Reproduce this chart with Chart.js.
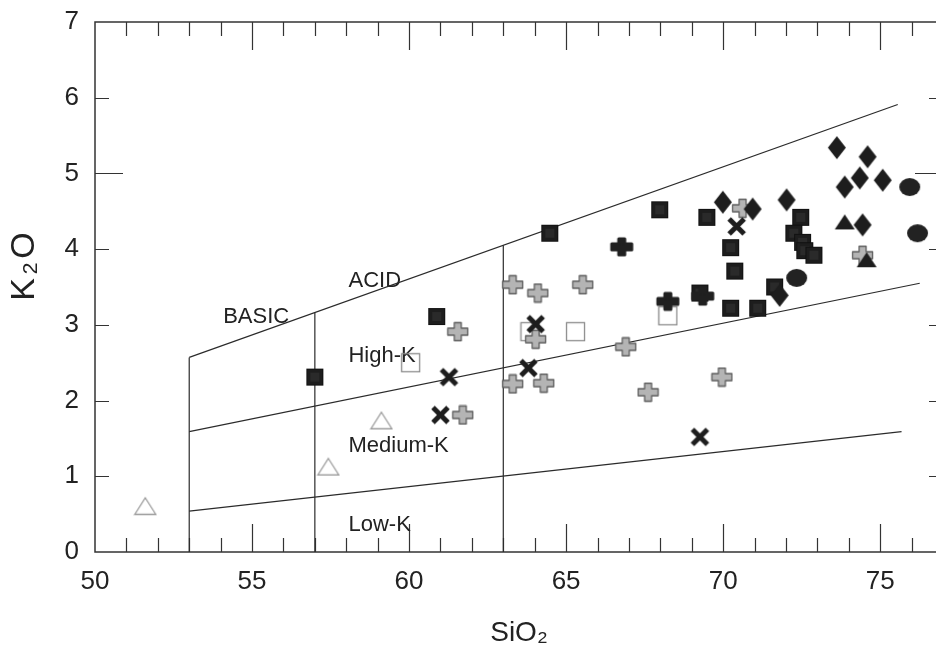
<!DOCTYPE html>
<html><head><meta charset="utf-8">
<script src="https://cdn.jsdelivr.net/npm/chart.js@4.4.1/dist/chart.umd.min.js"></script>
<style>html,body{margin:0;padding:0;background:#fff;overflow:hidden}canvas{display:block}</style>
</head><body>
<canvas id="c" width="943" height="658" style="width:943px;height:658px"></canvas>
<script>
// ---- data (SiO2, K2O) ----
const openTriangles = [[51.6,0.61],[57.43,1.13],[59.12,1.74]];
const blackSquares = [[57.0,2.31],[60.88,3.11],[64.48,4.21],[67.98,4.52],[69.48,4.42],[70.24,4.02],[70.37,3.71],[70.24,3.22],[71.10,3.22],[71.64,3.50],[72.47,4.42],[72.25,4.21],[72.53,4.09],[72.60,3.98],[72.89,3.92],[69.26,3.42]];
const openSquares = [[60.05,2.50],[63.85,2.91],[65.30,2.91],[68.24,3.12]];
const grayCrosses = [[63.30,3.53],[64.10,3.42],[65.53,3.53],[61.55,2.91],[64.03,2.81],[66.90,2.71],[63.30,2.22],[64.29,2.23],[61.71,1.81],[67.61,2.11],[69.96,2.31],[74.44,3.92],[70.62,4.54]];
const blackCrosses = [[61.27,2.31],[61.00,1.81],[64.03,3.01],[63.80,2.43],[70.43,4.30],[69.26,1.52]];
const diamonds = [[69.99,4.62],[70.94,4.53],[72.02,4.65],[71.80,3.39],[73.62,5.34],[74.60,5.22],[73.87,4.82],[74.35,4.94],[75.08,4.91],[74.44,4.32]];
const circles = [[75.94,4.82],[76.19,4.21],[72.34,3.62]];
const blackTriangles = [[73.87,4.36],[74.57,3.86]];
const blackPluses = [[66.77,4.03],[68.24,3.31],[69.35,3.38]];

// field boundaries
const line53 = [[53,0],[53,2.57]];
const line57 = [[57,0],[57,3.16]];
const line63 = [[63,0],[63,4.05]];
const acidLine = [[53,2.57],[75.56,5.91]];
const highKLine = [[53,1.59],[76.26,3.55]];
const lowKLine = [[53,0.54],[75.68,1.59]];

// field labels
const fieldLabels = ['BASIC','ACID','High-K','Medium-K','Low-K'];
const fieldLabelAnchors = [[54.08,3.10],[58.07,3.58],[58.07,2.59],[58.07,1.40],[58.07,0.357]];

const xTitle = 'SiO\u2082';
const yTitle = 'K\u2082O';

// ---- marker images ----
function mk(w, h, fn) {
  const c = document.createElement('canvas');
  c.width = w; c.height = h;
  const g = c.getContext('2d');
  fn(g, w, h);
  return c;
}
function plusPath(g, cx, cy, w, h, t) {
  const hw = w/2, hh = h/2, ht = t/2;
  g.beginPath();
  g.moveTo(cx-ht, cy-hh); g.lineTo(cx+ht, cy-hh); g.lineTo(cx+ht, cy-ht);
  g.lineTo(cx+hw, cy-ht); g.lineTo(cx+hw, cy+ht); g.lineTo(cx+ht, cy+ht);
  g.lineTo(cx+ht, cy+hh); g.lineTo(cx-ht, cy+hh); g.lineTo(cx-ht, cy+ht);
  g.lineTo(cx-hw, cy+ht); g.lineTo(cx-hw, cy-ht); g.lineTo(cx-ht, cy-ht);
  g.closePath();
}
const BLK = '#1d1d1d';
const imgBlackSquare = mk(19, 19, g => { g.fillStyle = BLK; g.fillRect(1, 1, 17, 17); g.strokeStyle = '#111'; g.lineWidth = 1; g.strokeRect(1.5,1.5,16,16); g.fillStyle='#2a2a2a'; g.fillRect(5,5,9,9); });
const imgOpenSquare = mk(21, 21, g => { g.strokeStyle = '#8c8c8c'; g.lineWidth = 1.3; g.strokeRect(1.5, 1.5, 18, 18); });
const imgGrayCross = mk(23, 21, g => { plusPath(g, 11.5, 10.5, 20, 18, 7); g.fillStyle = '#b4b4b4'; g.fill(); g.strokeStyle = '#5e5e5e'; g.lineWidth = 1.3; g.lineJoin = 'round'; g.stroke(); });
const imgBlackX = mk(21, 21, g => { g.strokeStyle = BLK; g.lineWidth = 5; g.lineCap = 'butt'; g.beginPath(); g.moveTo(3,3); g.lineTo(18,18); g.moveTo(18,3); g.lineTo(3,18); g.stroke(); });
const imgDiamond = mk(20, 25, g => { g.fillStyle = BLK; g.beginPath(); g.moveTo(10,1); g.lineTo(19,12.5); g.lineTo(10,24); g.lineTo(1,12.5); g.closePath(); g.fill(); });
const imgCircle = mk(23, 20, g => { g.fillStyle = '#222'; g.beginPath(); g.ellipse(11.5, 10, 10.5, 9, 0, 0, Math.PI*2); g.fill(); });
const imgBlackTri = mk(22, 17, g => { g.fillStyle = BLK; g.beginPath(); g.moveTo(11,1); g.lineTo(21,16); g.lineTo(1,16); g.closePath(); g.fill(); });
const imgOpenTri = mk(24, 20, g => { g.strokeStyle = '#9a9a9a'; g.lineWidth = 1.3; g.lineJoin = 'miter'; g.beginPath(); g.moveTo(12,2); g.lineTo(22.5,18.5); g.lineTo(1.5,18.5); g.closePath(); g.stroke(); });
const imgBlackPlus = mk(26, 22, g => { plusPath(g, 13, 11, 20, 16, 6); g.fillStyle = '#202020'; g.fill(); g.strokeStyle = '#202020'; g.lineWidth = 3; g.lineJoin = 'round'; g.stroke(); });

const pts = arr => arr.map(([x, y]) => ({x, y}));
function pointSet(label, arr, img) {
  return { label, data: pts(arr), pointStyle: img, pointRadius: 10, pointHoverRadius: 10, showLine: false };
}
function lineSet(label, arr) {
  return { label, data: pts(arr), showLine: true, pointRadius: 0, borderColor: '#2b2b2b', borderWidth: 1.2, fill: false };
}

const FONT = '"Liberation Sans", Arial, Helvetica, sans-serif';

function noPad(s) { s.paddingLeft = 0; s.paddingRight = 0; s.paddingTop = 0; s.paddingBottom = 0; }

const framePlugin = {
  id: 'frame',
  beforeDatasetsDraw(chart) {
    const {ctx, chartArea: a, scales: {x, y}} = chart;
    ctx.save();
    ctx.strokeStyle = '#333';
    ctx.lineWidth = 1.5;
    ctx.strokeRect(a.left, a.top, a.right - a.left, a.bottom - a.top);
    ctx.lineWidth = 1.2;
    ctx.beginPath();
    for (let v = Math.ceil(x.min) + 1; v < x.max; v++) {
      const px = Math.round(x.getPixelForValue(v)) + 0.5;
      const len = v % 5 === 0 ? 28 : 14;
      ctx.moveTo(px, a.bottom); ctx.lineTo(px, a.bottom - len);
      ctx.moveTo(px, a.top); ctx.lineTo(px, a.top + len);
    }
    for (let v = Math.ceil(y.min) + 1; v < y.max; v++) {
      const py = Math.round(y.getPixelForValue(v)) + 0.5;
      const len = v % 5 === 0 ? 28 : 14;
      ctx.moveTo(a.left, py); ctx.lineTo(a.left + len, py);
      ctx.moveTo(a.right, py); ctx.lineTo(a.right - len, py);
    }
    ctx.stroke();
    // field labels
    ctx.fillStyle = '#222';
    ctx.font = '22px ' + FONT;
    ctx.textBaseline = 'middle';
    ctx.textAlign = 'left';
    fieldLabels.forEach((t, i) => {
      const [vx, vy] = fieldLabelAnchors[i];
      ctx.fillText(t, x.getPixelForValue(vx), y.getPixelForValue(vy));
    });
    // y axis title
    ctx.save();
    ctx.translate(25, y.getPixelForValue(3.79));
    ctx.rotate(-Math.PI / 2);
    ctx.textAlign = 'center';
    ctx.font = '34px ' + FONT;
    try { ctx.letterSpacing = '3px'; } catch (e) {}
    ctx.fillText(yTitle, 0, 0);
    ctx.restore();
    ctx.restore();
  }
};

new Chart(document.getElementById('c'), {
  type: 'scatter',
  data: {
    datasets: [
      pointSet('plus', blackPluses, imgBlackPlus),
      pointSet('triangle', blackTriangles, imgBlackTri),
      pointSet('circle', circles, imgCircle),
      pointSet('diamond', diamonds, imgDiamond),
      pointSet('square', blackSquares, imgBlackSquare),
      pointSet('x', blackCrosses, imgBlackX),
      pointSet('cross', grayCrosses, imgGrayCross),
      pointSet('open square', openSquares, imgOpenSquare),
      pointSet('open triangle', openTriangles, imgOpenTri),
      lineSet('53', line53),
      lineSet('57', line57),
      lineSet('63', line63),
      lineSet('acid', acidLine),
      lineSet('highK', highKLine),
      lineSet('lowK', lowKLine)
    ]
  },
  options: {
    responsive: false,
    animation: false,
    events: [],
    layout: { autoPadding: false, padding: { top: 22, left: 0, right: 0, bottom: 0 } },
    plugins: { legend: { display: false }, tooltip: { enabled: false } },
    scales: {
      x: {
        type: 'linear', min: 50, max: 77,
        grid: { display: false, drawTicks: false },
        border: { display: false },
        ticks: { stepSize: 5, includeBounds: false, autoSkip: false, maxRotation: 0, padding: 14, color: '#222', font: { family: FONT, size: 26 } },
        title: { display: true, text: xTitle, color: '#222', font: { family: FONT, size: 28 }, padding: { top: 0, bottom: 8 } },
        afterFit(s) { s.height = 106; noPad(s); }
      },
      y: {
        type: 'linear', min: 0, max: 7,
        grid: { display: false, drawTicks: false },
        border: { display: false },
        ticks: { stepSize: 1, padding: 16, color: '#222', font: { family: FONT, size: 26 } },
        afterFit(s) { s.width = 95; noPad(s); }
      }
    }
  },
  plugins: [framePlugin]
});
</script>
</body></html>
